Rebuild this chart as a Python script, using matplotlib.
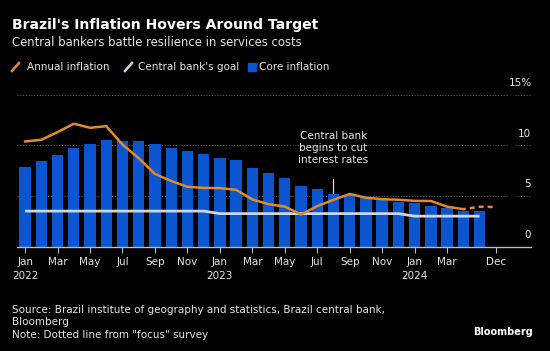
import numpy as np
import matplotlib
matplotlib.use("Agg")
import matplotlib.pyplot as plt
from matplotlib.lines import Line2D
from matplotlib.patches import Rectangle

# months Jan 2022 .. May 2024, plus the Dec 2024 forecast slot
months = ["Jan", "Feb", "Mar", "Apr", "May", "Jun", "Jul", "Aug", "Sep", "Oct", "Nov", "Dec"] * 2 + \
         ["Jan", "Feb", "Mar", "Apr", "May", "Dec"]
years = [2022] * 12 + [2023] * 12 + [2024] * 6

core = [7.9, 8.4, 9.0, 9.7, 10.1, 10.5, 10.45, 10.45, 10.1, 9.7, 9.4, 9.1,
        8.7, 8.5, 7.8, 7.3, 6.75, 6.0, 5.65, 5.2, 5.05, 4.75, 4.55, 4.35,
        4.25, 4.05, 3.8, 3.55, 3.5]
annual = [10.38, 10.54, 11.30, 12.13, 11.73, 11.89, 10.07, 8.73, 7.17, 6.47, 5.90, 5.79,
          5.77, 5.60, 4.65, 4.18, 3.94, 3.16, 3.99, 4.61, 5.19, 4.82, 4.68, 4.62,
          4.51, 4.50, 3.93, 3.69]
goal = [3.5] * 12 + [3.25] * 12 + [3.0] * 5
focus_idx = [27, 28, 29]
focus = [3.69, 3.93, 3.9]

tick_idx = [0, 2, 4, 6, 8, 10, 12, 14, 16, 18, 20, 22, 24, 26, 29]
tick_labels = ["Jan\n2022", "Mar", "May", "Jul", "Sep", "Nov", "Jan\n2023", "Mar", "May",
               "Jul", "Sep", "Nov", "Jan\n2024", "Mar", "Dec"]

BG = "black"
BLUE = "#0b55d0"
ORANGE = "#e08a2e"
GOALC = "#cdd5e3"
TXT = "#e6e6e6"
GRID = "#5a5a5a"

W, H = 550, 351
fig = plt.figure(figsize=(W / 100, H / 100), dpi=100, facecolor=BG)

def fy(px):
    return 1 - px / H

def fx(px):
    return px / W

# axes: x=0 at pixel 25, 16.23 px per month; y=0 at pixel 246.5, 10.12 px per unit
left_px, right_px = 17, 531
bottom_px = 246.5
ymax = 15.5
top_px = bottom_px - ymax * 10.12
ax = fig.add_axes([fx(left_px), fy(bottom_px), (right_px - left_px) / W, (bottom_px - top_px) / H])
ax.set_facecolor(BG)
x0 = -0.5
x1 = x0 + (right_px - left_px) / 16.23
ax.set_xlim(x0, x1)
ax.set_ylim(0, ymax)

x_core = np.arange(len(core))
ax.bar(x_core, core, width=0.7, color=BLUE, zorder=2)
ax.plot(np.arange(len(goal)), goal, color=GOALC, lw=2.0, zorder=3, solid_capstyle="butt")
ax.plot(np.arange(len(annual)), annual, color=ORANGE, lw=1.8, zorder=4, solid_joinstyle="round")
ax.plot(focus_idx, focus, color=ORANGE, lw=1.8, ls=(1, (2, 1.6)), zorder=4)

# dotted gridlines with a break before the labels
g_end = (507 - 25) / 16.23
g_start2 = (515 - 25) / 16.23
for v in [5, 10, 15]:
    ax.plot([x0, g_end], [v, v], color=GRID, lw=0.8, ls=(0, (1, 1.5)), zorder=1)
    ax.plot([g_start2, x1], [v, v], color=GRID, lw=0.8, ls=(0, (1, 1.5)), zorder=1)

for v, lab in [(0, "0"), (5, "5"), (10, "10"), (15, "15%")]:
    ax.text(x1 + 0.05 if lab == "15%" else x1, v + 0.65, lab, color=TXT, fontsize=7.5,
            ha="right", va="bottom")

for s in ["top", "right", "left"]:
    ax.spines[s].set_visible(False)
ax.spines["bottom"].set_color("#bbbbbb")
ax.spines["bottom"].set_linewidth(1.0)
ax.set_yticks([])
ax.set_xticks(tick_idx)
ax.set_xticklabels(tick_labels, linespacing=1.5)
ax.tick_params(axis="x", colors="#bbbbbb", labelcolor=TXT, labelsize=7.5, length=4.5,
               width=0.8, pad=3)
for lab in ax.get_xticklabels():
    lab.set_verticalalignment("top")

# annotation
ax.text(19, 8.1, "Central bank\nbegins to cut\ninterest rates", color=TXT, fontsize=7.5,
        ha="center", va="bottom", linespacing=1.25)
ax.plot([19, 19], [5.3, 6.7], color=TXT, lw=0.8, zorder=5)

# titles
fig.text(fx(12), fy(29), "Brazil's Inflation Hovers Around Target", color="white",
         fontsize=10.1, fontweight="bold", va="baseline")
fig.text(fx(12), fy(46), "Central bankers battle resilience in services costs", color=TXT,
         fontsize=8.35, va="baseline")

# legend
fig.add_artist(Line2D([fx(12), fx(19)], [fy(71), fy(63)], color=ORANGE, lw=1.8))
fig.text(fx(27), fy(70), "Annual inflation", color=TXT, fontsize=7.5, va="baseline")
fig.add_artist(Line2D([fx(125), fx(132)], [fy(71), fy(63)], color=GOALC, lw=1.8))
fig.text(fx(138), fy(70), "Central bank's goal", color=TXT, fontsize=7.5, va="baseline")
fig.add_artist(Rectangle((fx(248), fy(71)), 8 / W, 8 / H, color=BLUE, transform=fig.transFigure))
fig.text(fx(259), fy(70), "Core inflation", color=TXT, fontsize=7.5, va="baseline")

# footer
fs = 7.5
fig.text(fx(12), fy(313), "Source: Brazil institute of geography and statistics, Brazil central bank,",
         color=TXT, fontsize=fs, va="baseline")
fig.text(fx(12), fy(325), "Bloomberg", color=TXT, fontsize=fs, va="baseline")
fig.text(fx(12), fy(338), 'Note: Dotted line from "focus" survey', color=TXT, fontsize=fs,
         va="baseline")
fig.text(fx(533), fy(335), "Bloomberg", color="white", fontsize=7.0, fontweight="bold",
         ha="right", va="baseline")

fig.savefig("out.png", dpi=100, facecolor=BG)
